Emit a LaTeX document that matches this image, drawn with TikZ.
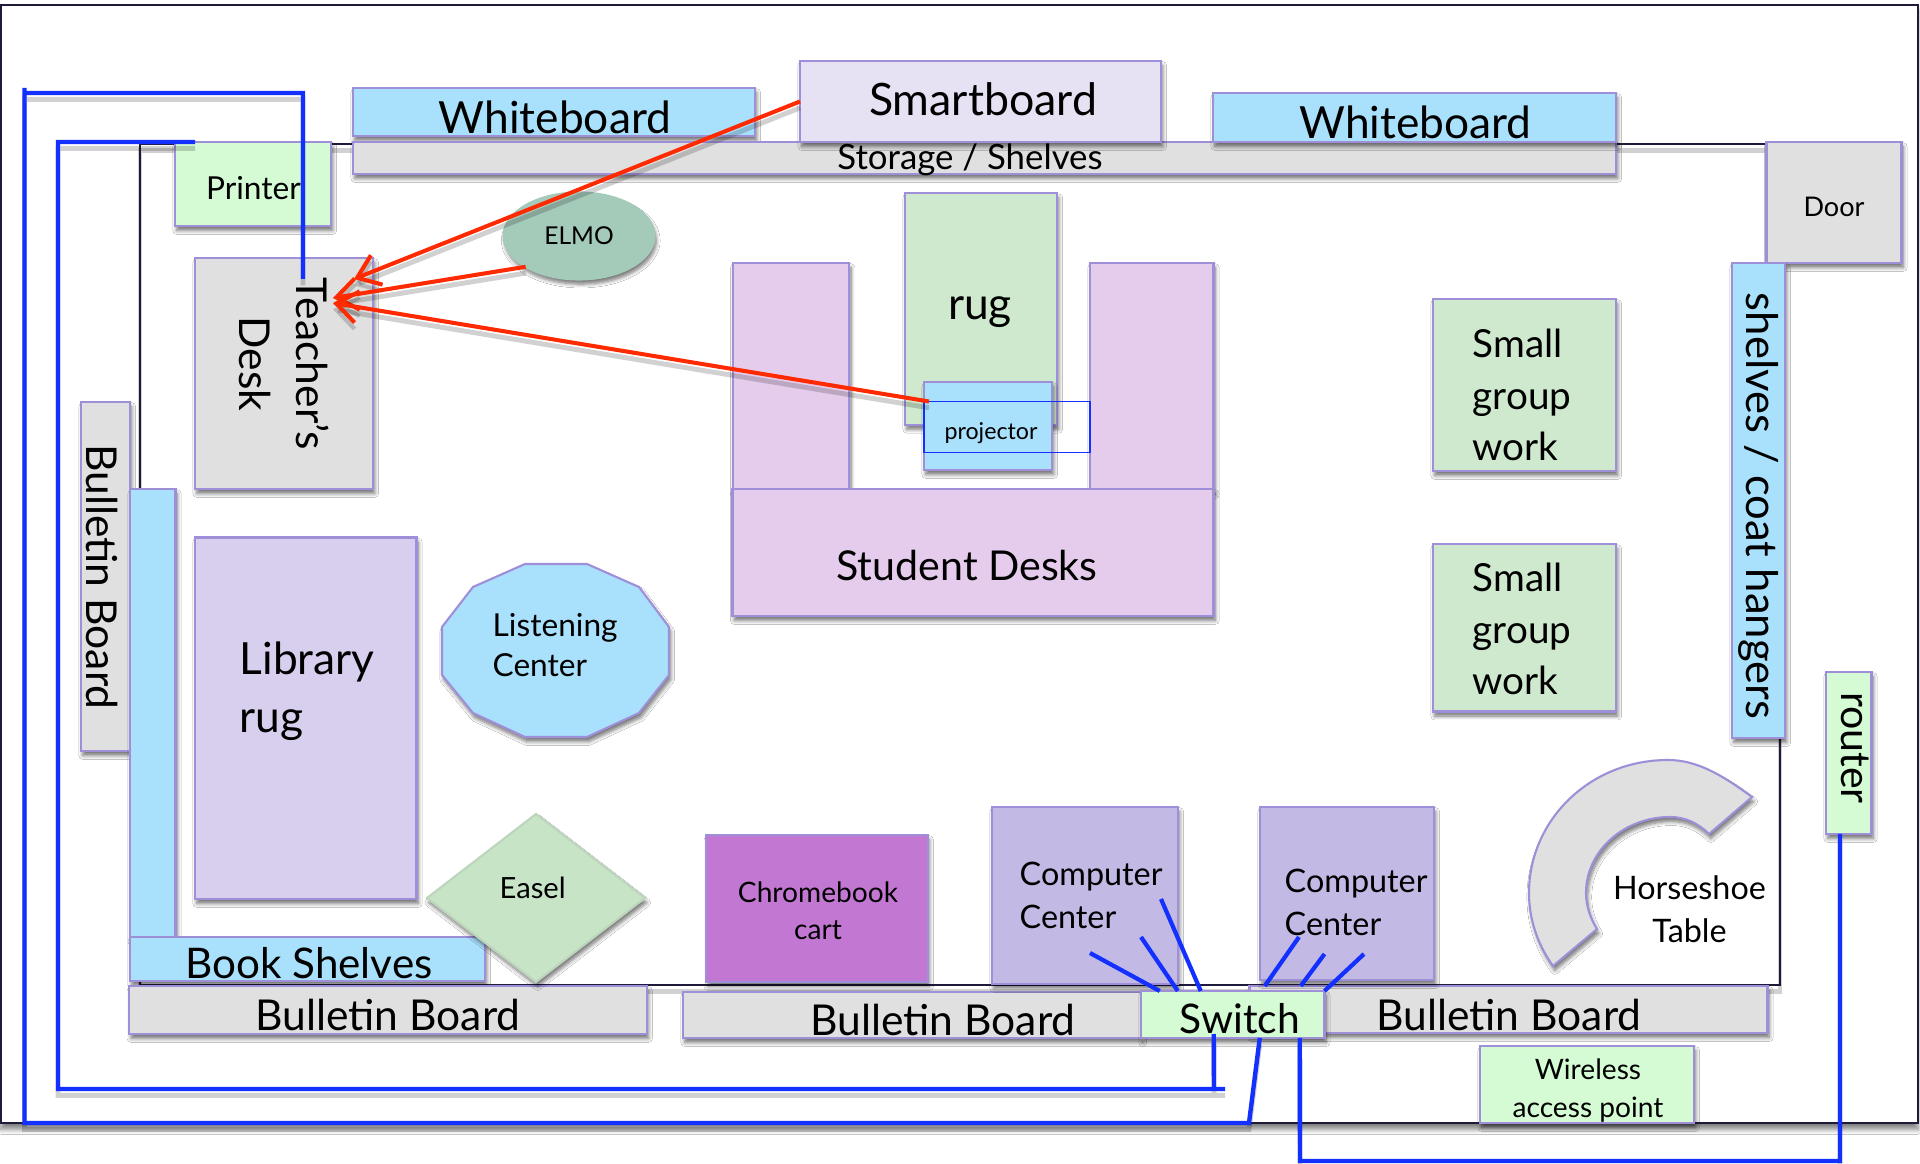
\documentclass[tikz,border=0pt]{standalone}
\usepackage{fontspec}
\setmainfont{Lato}
\usetikzlibrary{calc, shadows.blur, shapes.geometric, arrows.meta}

\definecolor{edgecol}{HTML}{9F8FD8}
\definecolor{wallcol}{HTML}{1F1A3A}
\definecolor{wirecol}{HTML}{1430FF}
\definecolor{redcol}{HTML}{FF2A00}
\definecolor{graycol}{HTML}{E0E0E0}
\definecolor{bluecol}{HTML}{A9E0FC}
\definecolor{mintcol}{HTML}{D4FBD4}
\definecolor{smartcol}{HTML}{E6E2F4}
\definecolor{greencol}{HTML}{CEE9CE}
\definecolor{elmocol}{HTML}{A4CABA}
\definecolor{deskcol}{HTML}{E6CCEC}
\definecolor{libcol}{HTML}{D8CFEE}
\definecolor{compcol}{HTML}{C2B9E4}
\definecolor{chromecol}{HTML}{C278D2}
\definecolor{easelcol}{HTML}{C7E4C7}

\tikzset{
 fs/.style 2 args={font=\fontsize{#1}{#2}\selectfont, inner sep=0pt},
 boxsize/.style 2 args={minimum width=#1*.01cm, minimum height=#2*.01cm},
 softshade/.style={blur shadow={shadow xshift=.5pt, shadow yshift=-1.3pt, shadow blur radius=1.1pt, shadow blur steps=6, shadow opacity=55}},
 room/.style={draw=edgecol, line width=.6pt, inner sep=0pt, outer sep=0pt, softshade},
 wall/.style={draw=wallcol, line width=.6pt},
 lineshade/.style={preaction={draw=black, draw opacity=.18, line width=1.4pt, transform canvas={yshift=-1.8pt}}},
 wire/.style={draw=wirecol, line width=1.25pt, lineshade},
 shortwire/.style={draw=wirecol, line width=1.2pt},
 sightline/.style={draw=redcol, line width=1.15pt, lineshade, -{Straight Barb[length=6pt, width=9pt, line width=1.15pt]}}
}

\begin{document}
\begin{tikzpicture}[x=.01cm, y=-.01cm]
 \useasboundingbox (0,0) rectangle (1920,1164);
 \fill[white] (0,0) rectangle (1920,1164);

 %outer page and room walls
 \draw[wall, fill=white, blur shadow={shadow xshift=0pt, shadow yshift=-1.8pt, shadow blur radius=1.4pt, shadow blur steps=6, shadow opacity=50}] (1,5) rectangle (1918,1123);
 \draw[wall, lineshade] (140,144) rectangle (1780,985);

 %top wall
 \node[room, fill=bluecol, boxsize={402}{48}] (wbleft) at (554,112) {};
 \node[fs={12.6}{15}] (wblefttext) at (555,117) {Whiteboard};
 \node[room, fill=graycol, boxsize={1263}{32}] (storage) at (984.5,158) {};
 \node[fs={9.9}{12}] (storagetext) at (970,160) {Storage / Shelves};
 \node[room, fill=smartcol, boxsize={361}{81}] (smart) at (980.5,101.5) {};
 \node[fs={12.7}{15}] (smarttext) at (983,99) {Smartboard};
 \node[room, fill=bluecol, boxsize={403}{49}] (wbright) at (1414.5,117.5) {};
 \node[fs={12.6}{15}] (wbrighttext) at (1415.5,122) {Whiteboard};
 \node[room, fill=mintcol, boxsize={156}{84}] (printer) at (253,184) {};
 \node[fs={9}{11}] (printertext) at (253.5,188) {Printer};
 \node[room, fill=graycol, boxsize={135}{121}] (door) at (1834,202.5) {};
 \node[fs={7.7}{10}] (doortext) at (1834,207) {Door};

 \node[room, ellipse, fill=elmocol, draw=elmocol, boxsize={151}{87}, fs={7}{9}] (elmo) at (579,236) {ELMO};
 \node[room, fill=graycol, boxsize={178}{231}] (desk) at (284,373.5) {};
 \node[fs={12.1}{16}, rotate=-90, align=center] (desktext) at (284,364) {Teacher's\\Desk};

 %left wall
 \node[room, fill=graycol, boxsize={49}{349}] (bbside) at (105.5,576.5) {};
 \node[fs={12.1}{15}, rotate=-90] (bbsidetext) at (102,577) {Bulletin Board};
 \node[room, fill=bluecol, boxsize={45.5}{448}] (shelfside) at (152.75,713) {};
 \node[room, fill=bluecol, boxsize={355}{44}] (books) at (307.5,959) {};
 \node[fs={12}{15}] (bookstext) at (309,963) {Book Shelves};
 \node[room, fill=libcol, boxsize={221.5}{361.5}] (librug) at (305.75,718.25) {};
 \node[fs={12.6}{16.5}, anchor=west, align=left] (librugtext) at (239,691) {Library\\rug};

 \draw[draw=edgecol, line width=.6pt, fill=bluecol, softshade]
  (525,564) -- (587,564) -- (639,587) -- (669,627) -- (669,675) -- (639,713) -- (587,737) -- (525,737) -- (473,713) -- (442,675) -- (442,627) -- (473,587) -- cycle;
 \node[fs={9}{11.4}, anchor=west, align=left] (listentext) at (492,645) {Listening\\Center};

 %student desks
 \node[room, fill=deskcol, boxsize={116.5}{227}] (armleft) at (791,376.5) {};
 \node[room, fill=deskcol, boxsize={123.5}{227}] (armright) at (1151.75,376.5) {};
 \node[room, fill=deskcol, boxsize={481}{127}] (base) at (973,552.5) {};
 \node[fs={11.7}{15}] (basetext) at (967,566) {Student Desks};
 \node[room, fill=greencol, boxsize={152}{231.5}] (rug) at (981,309) {};
 \node[fs={12.6}{15}] (rugtext) at (980,312) {rug};
 \node[room, fill=bluecol, boxsize={128}{88}] (proj) at (988,426) {};
 \node[fs={6.6}{8}] (projtext) at (991,433) {projector};
 \node[draw=wirecol, line width=.5pt, inner sep=0pt, outer sep=0pt, boxsize={166}{51}] (projframe) at (1007,427) {};

 %right side
 \node[room, fill=greencol, boxsize={183}{172}] (groupa) at (1524.5,385) {};
 \node[fs={11}{14.6}, anchor=west, align=left] (groupatext) at (1472,395) {Small\\group\\work};
 \node[room, fill=greencol, boxsize={183}{167.5}] (groupb) at (1524.5,627.75) {};
 \node[fs={11}{14.6}, anchor=west, align=left] (groupbtext) at (1472,629) {Small\\group\\work};
 \node[room, fill=bluecol, boxsize={53}{475}] (coats) at (1758.5,500.5) {};
 \node[fs={12.4}{15}, rotate=-90] (coatstext) at (1759,506) {shelves / coat hangers};
 \node[room, fill=mintcol, boxsize={45.5}{162}] (router) at (1848.75,753) {};
 \node[fs={11.7}{14}, rotate=-90] (routertext) at (1855,748) {router};

 %bottom wall
 \node[room, fill=graycol, boxsize={517.5}{48}] (bbleft) at (388,1010) {};
 \node[fs={12.1}{15}] (bblefttext) at (388,1015) {Bulletin Board};
 \node[room, fill=graycol, boxsize={518}{47}] (bbright) at (1508.5,1009.5) {};
 \node[fs={12.1}{15}] (bbrighttext) at (1509,1015) {Bulletin Board};
 \node[room, fill=graycol, boxsize={458}{46}] (bbmid) at (912,1015) {};
 \node[fs={12.1}{15}] (bbmidtext) at (943,1020) {Bulletin Board};
 \node[room, diamond, fill=easelcol, draw=easelcol!85!gray, boxsize={218}{168}] (easel) at (536,898) {};
 \node[fs={8.3}{10}] (easeltext) at (532.6,888) {Easel};
 \node[room, fill=chromecol, boxsize={221.5}{147}] (cart) at (817,908.5) {};
 \node[fs={8}{10.4}, align=center] (carttext) at (818,910.5) {Chromebook\\cart};
 \node[room, fill=compcol, boxsize={186}{177}] (compa) at (1085,895.5) {};
 \node[fs={9.2}{12.2}, anchor=west, align=left] (compatext) at (1019,895.5) {Computer\\Center};
 \node[room, fill=compcol, boxsize={174}{173}] (compb) at (1347,893.5) {};
 \node[fs={9.2}{12.2}, anchor=west, align=left] (compbtext) at (1284,902.5) {Computer\\Center};
 \node[room, fill=mintcol, boxsize={183.5}{47}] (switch) at (1232.75,1014.5) {};
 \node[fs={11.6}{15}] (switchtext) at (1240,1019) {Switch};
 \node[room, fill=mintcol, boxsize={214}{77}] (wireless) at (1587,1084.5) {};
 \node[fs={8}{10.8}, align=center] (wirelesstext) at (1588,1090.5) {Wireless\\access point};

 \draw[draw=edgecol, line width=.6pt, fill=graycol, softshade]
  (1752,797) .. controls (1722,775) and (1697,760) .. (1668,760) .. controls (1590,760) and (1529,820) .. (1529,893)
  .. controls (1529,920) and (1538,945) .. (1553,966) -- (1597,929) .. controls (1590,918) and (1586,905) .. (1586,893)
  .. controls (1586,850) and (1625,817) .. (1670,817) .. controls (1685,817) and (1698,823) .. (1709,834) -- cycle;
 \node[fs={9.2}{12.2}, align=center] (horsetext) at (1689.5,909.5) {Horseshoe\\Table};

 %red arrows to the desk
 \coordinate (tipA) at ($(desk.north east)+(-19,21)$);
 \coordinate (tipB) at ($(desk.north east)+(-40,40)$);
 \coordinate (tipC) at ($(desk.north east)+(-40,45)$);
 \draw[sightline] (smart.west) -- (tipA);
 \draw[sightline] (elmo.210) -- (tipB);
 \draw[sightline] ($(projframe.north west)+(5,0)$) -- (tipC);

 %cables
 \coordinate (deskend) at ($(desk.north west)+(108,21)$);
 \coordinate (printerend) at ($(printer.north west)+(20,0)$);
 \draw[wire] ($(switch.south)+(27,0)$) -- (1249,1123) -- (24.5,1123) -- (24.5,88) (24.5,93) -- (303,93) -- (deskend);
 \draw[wire] ($(switch.south)+(-19,-4)$) -- (1214,1089) (1225,1089) -- (58,1089) -- (58,142) -- (printerend);
 \draw[wire] ($(switch.south)+(67,0)$) -- (1300,1161) -- (1840,1161) -- ($(router.south)+(-8.75,0)$);
 \coordinate (compaA) at (1090,953);
 \coordinate (compaB) at (1141,937);
 \coordinate (compaC) at (1161,899);
 \coordinate (compbA) at (1299,937);
 \coordinate (compbB) at (1324.5,954);
 \coordinate (compbC) at (1364,954);
 \draw[shortwire] (compaA) -- ($(switch.north)+(-73,0)$);
 \draw[shortwire] (compaB) -- ($(switch.north)+(-55,0)$);
 \draw[shortwire] (compaC) -- ($(switch.north)+(-32,0)$);
 \draw[shortwire] (compbA) -- ($(switch.north)+(32,-5)$);
 \draw[shortwire] (compbB) -- ($(switch.north)+(68,-5)$);
 \draw[shortwire] (compbC) -- (switch.north east);
\end{tikzpicture}
\end{document}
